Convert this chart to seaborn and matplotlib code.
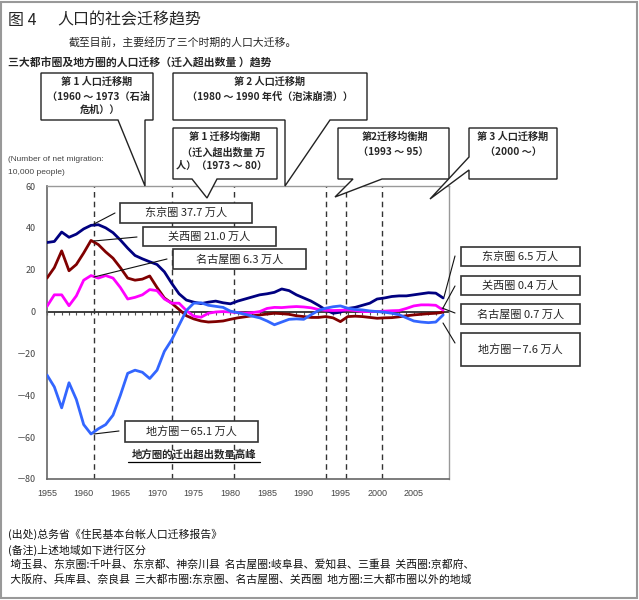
import numpy as np
import pandas as pd
import matplotlib
matplotlib.use("Agg")
import matplotlib.pyplot as plt
import seaborn as sns
from matplotlib.patches import Polygon, Rectangle
from matplotlib.lines import Line2D
from matplotlib import font_manager

# ---------------- data ----------------
years = list(range(1955, 2010))
tokyo = [33, 33.5, 38, 35.5, 37, 39.5, 41.2, 41.5, 40, 37.7,
         34.2, 30.3, 26.8, 25.2, 23.8, 22.5, 19, 13.5, 8.5, 5.5,
         4.5, 3.8, 4.5, 5, 4.2, 3.7, 5, 6, 7, 8,
         8.5, 9.2, 10.8, 10, 8, 6.5, 5, 3, 0.8, -0.8,
         -0.3, 1.5, 2, 3, 4, 6, 6.5, 7.2, 7.5, 7.5,
         8, 8.5, 9, 8.8, 6.5]
kansai = [16, 21, 29, 19.5, 22.5, 28, 34, 32, 28.5, 25.5,
          21, 16, 15, 15.5, 17, 11.5, 6.5, 4, 1, -2,
          -3.5, -4.5, -5, -4.8, -4.5, -3.7, -3, -2.5, -2, -1.6,
          -1.2, -0.8, -1, -1.3, -2, -2.4, -2.8, -2.8, -2.4, -3,
          -4.8, -2.4, -2.2, -2.4, -2.8, -3.2, -3, -2.9, -2.5, -2,
          -1.6, -1.3, -1, -0.8, -0.3]
nagoya = [2.5, 8, 8, 2.8, 7.5, 15, 17.2, 16, 17.2, 16,
          11.5, 6, 6.8, 8, 10.5, 10, 6, 4, 4, 0.5,
          -2.2, -2.7, -0.8, -0.2, 0, -0.2, -0.5, -0.8, -0.5, 0,
          1.5, 2, 1.9, 2.2, 2.4, 2.2, 1.8, 1, 0.6, 0.5,
          0.6, 0.8, 0.5, 0, 0, 0, 0.2, 0.4, 0.5, 1.5,
          2.7, 3.2, 3.2, 3, 0.7]
regional = [-30.3, -36, -46, -34, -42, -54, -58.5, -56, -54, -49.5,
            -40, -29.5, -28, -29, -32, -28, -19, -13.5, -6.5, 0.5,
            4, 4.2, 3, 2.5, 2, 0.2, -0.5, -1.3, -2.2, -3,
            -4.5, -6.3, -5, -3.7, -3.5, -3.7, -1.5, 0.5, 1.6, 2.3,
            2.7, 1.6, 1, 0.8, 0.3, 0, -0.3, -0.8, -1.5, -3,
            -4.5, -5, -5.3, -5, -1.6]
regions = ["东京圈", "关西圈", "名古屋圈", "地方圈"]
colors = {"东京圈": "#000080", "关西圈": "#800000",
          "名古屋圈": "#FF00FF", "地方圈": "#3366FF"}
period_lines = [1961.4, 1972.1, 1980.5, 1993.1, 1995.7, 2000.6]
xtick_years = list(range(1955, 2010, 5))
ytick_vals = [60, 40, 20, 0, -20, -40, -60, -80]
ytick_labels = ["60", "40", "20", "0", "－20", "－40", "－60", "－80"]

df = pd.DataFrame({
    "year": years * 4,
    "value": tokyo + kansai + nagoya + regional,
    "region": sum([[r] * len(years) for r in regions], []),
})

# ---------------- style ----------------
sns.set_theme(style="white")
plt.rcParams["font.family"] = ["Noto Sans CJK SC", "DejaVu Sans"]
plt.rcParams["axes.unicode_minus"] = False
names = {f.name for f in font_manager.fontManager.ttflist}
narrow = "Liberation Sans Narrow" if "Liberation Sans Narrow" in names else "Liberation Sans"

W, H = 639, 600
fig = plt.figure(figsize=(W / 100, H / 100), dpi=100)
fig.patch.set_facecolor("white")


def fx(x):
    return x / W


def fy(y):
    return 1 - y / H


def P(pts):
    return [(fx(x), fy(y)) for x, y in pts]


ax = fig.add_axes([fx(47), fy(479), (449 - 47) / W, (479 - 186) / H])
ax.set_facecolor("white")

for x in period_lines:
    ax.axvline(x, color="#333333", lw=1.0, ls=(0, (4, 3)), zorder=1)

sns.lineplot(data=df, x="year", y="value", hue="region", hue_order=regions,
             palette=colors, linewidth=2.0, legend=False, ax=ax, zorder=3)

ax.set_xlim(1955, 2009.8)
ax.set_ylim(-80, 60)
ax.set_xlabel("")
ax.set_ylabel("")
ax.set_xticks(xtick_years)
ax.set_xticklabels([str(y) for y in xtick_years], fontsize=6.5,
                   color="#444444", family=narrow)
ax.set_yticks(ytick_vals)
ax.set_yticklabels(ytick_labels, fontsize=6.5, color="#444444")
ax.tick_params(axis="x", length=0, pad=7)
ax.tick_params(axis="y", length=0, pad=8)
for s in ["top", "right"]:
    ax.spines[s].set_color("#999999")
    ax.spines[s].set_linewidth(1.0)
for s in ["left", "bottom"]:
    ax.spines[s].set_color("#666666")
    ax.spines[s].set_linewidth(1.2)

# zero axis with yearly ticks
sec = ax.secondary_xaxis(80 / 140)
sec.set_xticks(years)
sec.tick_params(axis="x", direction="in", length=2.5, width=0.8,
                color="#555555", labelbottom=False, labeltop=False)
sec.spines["bottom"].set_color("#555555")
sec.spines["bottom"].set_linewidth(1.0)

# ---------------- titles ----------------
fig.text(fx(8), fy(20), "图 4", fontsize=11.5, va="center", ha="left")
fig.text(fx(57), fy(20), "人口的社会迁移趋势", fontsize=11.5, va="center", ha="left")
fig.text(fx(69), fy(42), "截至目前，主要经历了三个时期的人口大迁移。",
         fontsize=7.8, va="center", ha="left")
fig.text(fx(8), fy(62), "三大都市圈及地方圈的人口迁移（迁入超出数量 ）趋势",
         fontsize=7.8, va="center", ha="left", weight="bold")
fig.text(fx(8), fy(160), "(Number of net migration:", fontsize=6.0,
         va="center", ha="left", color="#444444", family=narrow)
fig.text(fx(8), fy(173), "10,000 people)", fontsize=6.0,
         va="center", ha="left", color="#444444", family=narrow)

# ---------------- period callouts ----------------
callouts = [
    ([(41, 73), (153, 73), (153, 120), (145, 120), (145, 186), (118, 120), (41, 120)],
     [("第 1 人口迁移期", 97, 82), ("（1960 ～ 1973（石油", 98, 97), ("危机））", 100, 110)]),
    ([(173, 73), (367, 73), (367, 120), (330, 120), (285, 186), (285, 120), (173, 120)],
     [("第 2 人口迁移期", 270, 82), ("（1980 ～ 1990 年代（泡沫崩溃））", 270, 97)]),
    ([(173, 128), (277, 128), (277, 179), (217, 179), (207, 198), (192, 179), (173, 179)],
     [("第 1 迁移均衡期", 225, 137), ("（迁入超出数量 万", 224, 152), ("人）（1973 ～ 80）", 222, 166)]),
    ([(338, 128), (449, 128), (449, 179), (382, 179), (335, 197), (353, 179), (338, 179)],
     [("第2迁移均衡期", 395, 137), ("（1993 ～ 95）", 393, 152)]),
    ([(469, 128), (557, 128), (557, 179), (469, 179), (469, 170), (430, 199), (469, 157)],
     [("第 3 人口迁移期", 513, 137), ("（2000 ～）", 513, 152)]),
]
for pts, lines in callouts:
    fig.patches.append(Polygon(P(pts), closed=True, facecolor="white",
                               edgecolor="#222222", lw=1.0,
                               transform=fig.transFigure, zorder=5))
    for s, x, y in lines:
        fig.text(fx(x), fy(y), s, fontsize=7.3, ha="center", va="center",
                 weight="bold", zorder=6)

# ---------------- value label boxes ----------------
labels = [
    ("东京圈 37.7 万人", (120, 203, 252, 223), (115, 213, 94, 224)),
    ("关西圈 21.0 万人", (143, 227, 276, 246), (137, 237, 94, 241)),
    ("名古屋圈 6.3 万人", (173, 249, 306, 269), (167, 259, 94, 277)),
    ("地方圈－65.1 万人", (125, 421, 258, 442), (119, 431, 94, 434)),
    ("东京圈 6.5 万人", (461, 247, 580, 266), (455, 256, 444, 297)),
    ("关西圈 0.4 万人", (461, 276, 580, 295), (455, 286, 443, 308)),
    ("名古屋圈 0.7 万人", (461, 304, 580, 324), (455, 313, 442, 308)),
    ("地方圈－7.6 万人", (461, 333, 580, 366), (455, 343, 443, 323)),
]
for s, (x0, y0, x1, y1), (lx0, ly0, lx1, ly1) in labels:
    fig.patches.append(Rectangle((fx(x0), fy(y1)), (x1 - x0) / W, (y1 - y0) / H,
                                 facecolor="white", edgecolor="#333333", lw=1.2,
                                 transform=fig.transFigure, zorder=5))
    fig.text(fx((x0 + x1) / 2), fy((y0 + y1) / 2), s, fontsize=8.0,
             ha="center", va="center", zorder=6)
    fig.lines.append(Line2D([fx(lx0), fx(lx1)], [fy(ly0), fy(ly1)], color="#111111",
                            lw=0.8, transform=fig.transFigure, zorder=6))

fig.text(fx(194), fy(454), "地方圈的迁出超出数量高峰", fontsize=7.5,
         ha="center", va="center", weight="bold", zorder=6)
fig.lines.append(Line2D([fx(128), fx(260)], [fy(462), fy(462)], color="black",
                        lw=0.9, transform=fig.transFigure, zorder=6))

# ---------------- footer ----------------
footer = [
    (8, 534, "(出处)总务省《住民基本台帐人口迁移报告》"),
    (8, 550, "(备注)上述地域如下进行区分"),
    (8, 564, " 埼玉县、东京圈:千叶县、东京都、神奈川县  名古屋圈:岐阜县、爱知县、三重县  关西圈:京都府、"),
    (8, 579, " 大阪府、兵库县、奈良县  三大都市圈:东京圈、名古屋圈、关西圈  地方圈:三大都市圈以外的地域"),
]
for x, y, s in footer:
    fig.text(fx(x), fy(y), s, fontsize=7.8, ha="left", va="center", color="#111111")

# outer frame
fig.patches.append(Rectangle((fx(1), fy(598)), 636 / W, 596 / H, facecolor="none",
                             edgecolor="#999999", lw=1.5, transform=fig.transFigure,
                             zorder=10))

fig.savefig("out.png", dpi=100, facecolor="white")
